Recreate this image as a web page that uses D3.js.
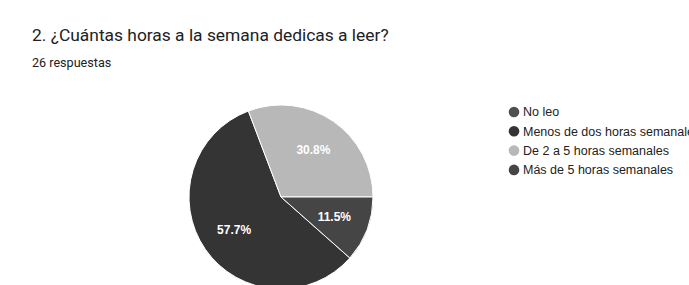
<!DOCTYPE html>
<html>
<head>
<meta charset="utf-8">
<script src="https://cdn.jsdelivr.net/npm/d3@7/dist/d3.min.js"></script>
<style>
  body { margin: 0; background: #ffffff; }
  svg { display: block; }
</style>
</head>
<body>
<div id="chart"></div>
<script>
var categories = ["No leo", "Menos de dos horas semanales", "De 2 a 5 horas semanales", "Más de 5 horas semanales"];
var values = [0, 15, 8, 3];
var colors = ["#4f4f4f", "#343434", "#b8b8b8", "#454545"];
var title = "2. ¿Cuántas horas a la semana dedicas a leer?";
var subtitle = "26 respuestas";

var width = 689, height = 285;
var cx = 281, cy = 197, radius = 92;

var svg = d3.select("#chart").append("svg")
    .attr("width", width)
    .attr("height", height);

svg.append("rect").attr("width", width).attr("height", height).attr("fill", "#ffffff");

svg.append("text")
    .attr("x", 32).attr("y", 41)
    .attr("font-family", "Roboto, sans-serif")
    .attr("font-size", 17.4)
    .attr("fill", "#202124")
    .text(title);

svg.append("text")
    .attr("x", 32).attr("y", 67)
    .attr("font-family", "Roboto, sans-serif")
    .attr("font-size", 12.6)
    .attr("fill", "#202124")
    .text(subtitle);

var total = d3.sum(values);
var startAngle = Math.PI / 2 + 2 * Math.PI * values[3] / total;

var pie = d3.pie()
    .sort(null)
    .value(function(d) { return d; })
    .startAngle(startAngle)
    .endAngle(startAngle + 2 * Math.PI);

var arc = d3.arc().innerRadius(0).outerRadius(radius);
var labelArc = d3.arc().innerRadius(radius * 0.62).outerRadius(radius * 0.62);

var g = svg.append("g").attr("transform", "translate(" + cx + "," + cy + ")");

var arcs = pie(values);

g.selectAll("path")
    .data(arcs)
    .enter().append("path")
    .attr("d", arc)
    .attr("fill", function(d, i) { return colors[i]; })
    .attr("stroke", "#ffffff")
    .attr("stroke-width", function(d) { return d.value > 0 ? 1 : 0; });

g.selectAll("text.lbl")
    .data(arcs.filter(function(d) { return d.value > 0; }))
    .enter().append("text")
    .attr("class", "lbl")
    .attr("transform", function(d) { return "translate(" + labelArc.centroid(d) + ")"; })
    .attr("dy", "0.35em")
    .attr("text-anchor", "middle")
    .attr("font-family", "Liberation Sans, Arial, sans-serif")
    .attr("font-size", 12)
    .attr("font-weight", "bold")
    .attr("fill", "#ffffff")
    .text(function(d) { return (d.value / total * 100).toFixed(1) + "%"; });

var legend = svg.append("g").attr("transform", "translate(514,112)");

var item = legend.selectAll("g")
    .data(categories)
    .enter().append("g")
    .attr("transform", function(d, i) { return "translate(0," + i * 19.3 + ")"; });

item.append("circle")
    .attr("r", 5.3)
    .attr("fill", function(d, i) { return colors[i]; });

item.append("text")
    .attr("x", 9).attr("dy", "0.35em")
    .attr("font-family", "Liberation Sans, Arial, sans-serif")
    .attr("font-size", 12.5)
    .attr("fill", "#222222")
    .text(function(d) { return d; });
</script>
</body>
</html>
